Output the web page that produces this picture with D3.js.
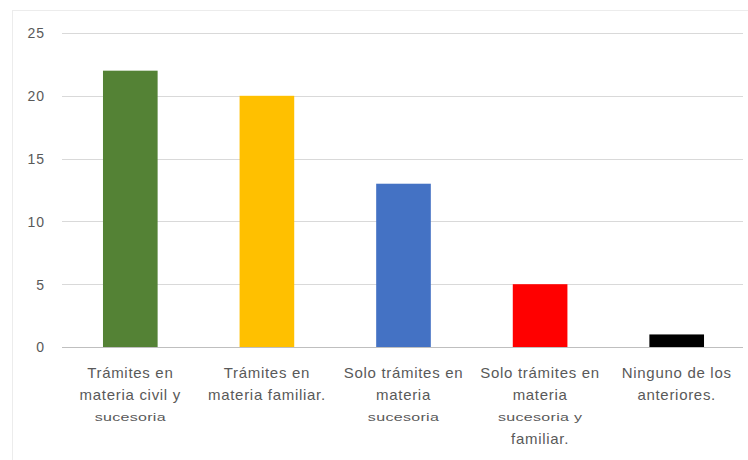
<!DOCTYPE html>
<html><head><meta charset="utf-8">
<script src="https://cdn.jsdelivr.net/npm/d3@7"></script>
<style>body{margin:0;background:#fff}svg{display:block}</style>
</head><body>
<script>
const categories = ["Trámites en materia civil y sucesoria","Trámites en materia familiar.","Solo trámites en materia sucesoria","Solo trámites en materia sucesoria y familiar.","Ninguno de los anteriores."];
const values = [22, 20, 13, 5, 1];
const colors = ["#548235", "#FFC000", "#4472C4", "#FF0000", "#000000"];
const yTicks = [0, 5, 10, 15, 20, 25];
// label lines: [text, small?]
const labelLines = [
  [["Trámites en",0],["materia civil y",0],["sucesoria",1]],
  [["Trámites en",0],["materia familiar.",0]],
  [["Solo trámites en",0],["materia",0],["sucesoria",1]],
  [["Solo trámites en",0],["materia",0],["sucesoria y",1],["familiar.",0]],
  [["Ninguno de los",0],["anteriores.",0]]
];

const W = 748, H = 460;
const svg = d3.select("body").append("svg").attr("width", W).attr("height", H);
svg.append("rect").attr("x", 12.5).attr("y", 10.5).attr("width", W).attr("height", H)
  .attr("fill", "none").attr("stroke", "#ececec");

const x = d3.scaleBand().domain(categories).range([62, 745]).paddingInner(0.6).paddingOuter(0.3);
const y = d3.scaleLinear().domain([0, 25]).range([347, 33]);

const grid = svg.append("g");
grid.selectAll("line").data(yTicks).join("line")
  .attr("x1", 62).attr("x2", 743)
  .attr("y1", d => Math.round(y(d)) + 0.5).attr("y2", d => Math.round(y(d)) + 0.5)
  .attr("stroke", d => d === 0 ? "#bfbfbf" : "#d9d9d9").attr("stroke-width", 1.2);

const yAxis = d3.axisLeft(y).tickValues(yTicks).tickSize(0).tickPadding(0);
const ya = svg.append("g").attr("transform", "translate(45,0)").call(yAxis);
ya.select(".domain").remove();
ya.selectAll("text").attr("fill", "#595959").style("font-family", "Liberation Sans, Arial, sans-serif")
  .style("font-size", "14px").style("letter-spacing", "1px").attr("dy", "0.35em");

svg.append("g").selectAll("rect").data(categories).join("rect")
  .attr("x", d => x(d)).attr("width", x.bandwidth())
  .attr("y", (d, i) => y(values[i])).attr("height", (d, i) => y(0) - y(values[i]))
  .attr("fill", (d, i) => colors[i]);

const xa = svg.append("g");
categories.forEach((c, i) => {
  const cx = x(c) + x.bandwidth() / 2;
  labelLines[i].forEach((ln, j) => {
    const yy = 378 + j * 22;
    const t = xa.append("text").attr("text-anchor", "middle").attr("fill", "#595959")
      .style("font-family", "Liberation Sans, Arial, sans-serif")
      .text(ln[0]);
    if (ln[1]) {
      t.attr("transform", `translate(${cx},${yy - 1}) scale(1.6,1)`)
        .style("font-size", "10px").style("letter-spacing", "0.2px");
    } else {
      t.attr("x", cx).attr("y", yy).style("font-size", "15px").style("letter-spacing", "0.7px");
    }
  });
});
</script>
</body></html>
